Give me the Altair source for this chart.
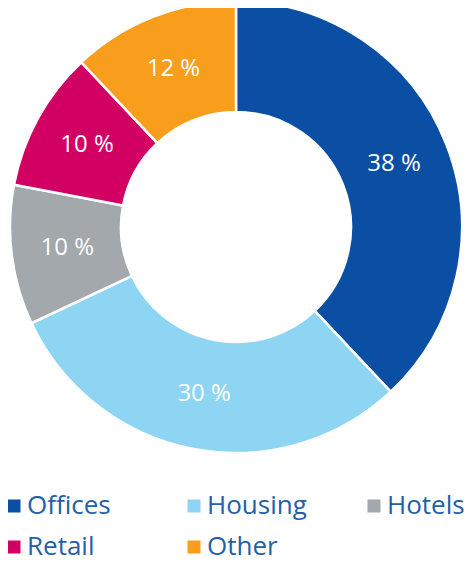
import altair as alt
import pandas as pd

categories = ["Offices", "Housing", "Hotels", "Retail", "Other"]
values = [38, 30, 10, 10, 12]
colors = ["#0a4fa3", "#8dd5f2", "#a2a8ab", "#d20062", "#f99d1c"]
labels = ["38 %", "30 %", "10 %", "10 %", "12 %"]

df = pd.DataFrame({
    "category": categories,
    "value": values,
    "label": labels,
    "idx": list(range(len(categories))),
})

color_scale = alt.Scale(domain=categories, range=colors)

base = alt.Chart(df).encode(
    theta=alt.Theta("value:Q", stack=True),
    order=alt.Order("idx:Q", sort="ascending"),
)

arcs = base.mark_arc(
    radius=226, radius2=115, stroke="white", strokeWidth=2.5
).encode(
    x=alt.value(228),
    y=alt.value(219),
    color=alt.Color(
        "category:N",
        scale=color_scale,
        sort=categories,
        legend=alt.Legend(
            title=None,
            orient="none",
            legendX=-7,
            legendY=485,
            padding=0,
            direction="horizontal",
            columns=3,
            gridAlign="all",
            columnPadding=54,
            rowPadding=15,
            symbolType="square",
            symbolSize=169,
            symbolOffset=0,
            symbolStrokeWidth=0,
            labelFont="Open Sans",
            labelFontSize=26,
            labelColor="#2360a8",
            labelOffset=0,
            labelLimit=300,
        ),
    ),
)

text = base.mark_text(
    radius=170, font="Open Sans", fontSize=24, color="white"
).encode(
    x=alt.value(228),
    y=alt.value(219),
    text="label:N",
)

chart = (
    alt.layer(arcs, text)
    .properties(width=459, height=554, padding=0, autosize=alt.AutoSizeParams(type="none"))
    .configure_view(stroke=None)
)

chart.save("out.html", embed_options={"renderer": "svg", "actions": False})
